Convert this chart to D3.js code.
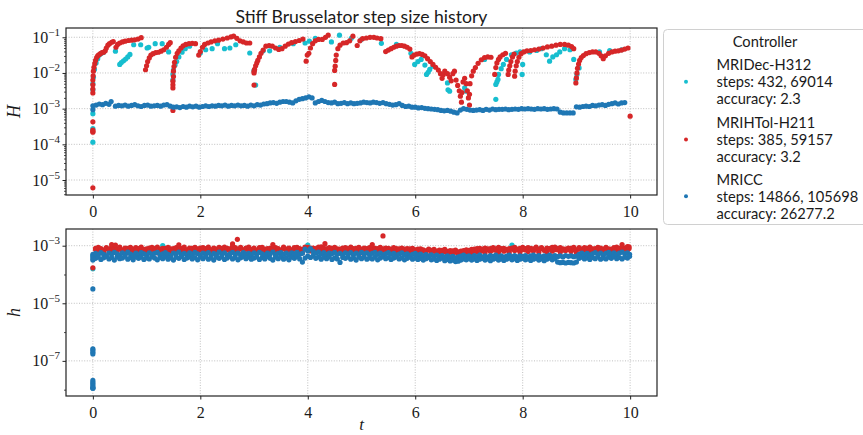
<!DOCTYPE html>
<html>
<head>
<meta charset="utf-8">
<script src="https://cdn.jsdelivr.net/npm/d3@7"></script>
<style>
    body { margin: 0; background: #fff; }
    svg { display: block; }
    .tick-lbl { font-family: "Liberation Serif", "DejaVu Serif", serif; fill: #1a1a1a; }
    .sans { font-family: Lato, "Noto Sans", sans-serif; fill: #1a1a1a; }
</style>
</head>
<body>
<div id="chart"></div>
<script>

// ---------- data (t, log10 of step size) ----------

const controllers = ["MRIDec-H312", "MRIHTol-H211", "MRICC"];
const controllerStats = [
    ["steps:  432, 69014", "accuracy:  2.3"],
    ["steps:  385, 59157", "accuracy:  3.2"],
    ["steps:  14866, 105698", "accuracy:  26277.2"]
];
const controllerColors = ["#17becf", "#d62728", "#1f77b4"];

const xTicks = [0, 2, 4, 6, 8, 10];

// upper panel, slow step H
const topCyan = [
    [0,-3.94],[0,-3.56],[0,-3.14],[0,-2.47],[0,-2.3],[0.01,-2.12],[0.03,-1.9],[0.06,-1.72],[0.09,-1.6],[0.12,-1.5],
    [0.16,-1.45],[0.2,-1.42],[0.42,-1.39],[0.5,-1.76],[0.53,-1.71],[0.57,-1.66],[0.61,-1.61],[0.65,-1.55],[0.69,-1.48],[0.76,-1.21],
    [0.89,-1.21],[1.01,-1.3],[1.04,-1.28],[1.16,-1.18],[1.29,-1.18],[1.41,-1.41],[1.49,-2.19],[1.49,-2.04],[1.5,-1.92],[1.53,-1.78],
    [1.56,-1.68],[1.6,-1.55],[1.66,-1.42],[1.72,-1.32],[1.8,-1.25],[2.0,-1.44],[2.1,-1.35],[2.22,-1.32],[2.32,-1.18],[2.45,-1.32],
    [2.55,-1.3],[2.66,-1.21],[2.92,-1.44],[3.0,-1.93],[3.03,-2.34],[3.17,-1.38],[3.29,-1.38],[3.48,-1.28],[3.73,-1.18],[3.95,-1.16],
    [4.03,-1.11],[4.14,-1.03],[4.44,-1.13],[4.59,-0.94],[4.81,-1.03],[4.99,-1.07],[5.37,-1.17],[5.65,-1.2],[5.92,-1.45],[5.99,-1.76],
    [6.05,-1.68],[6.11,-1.62],[6.18,-1.78],[6.21,-2.04],[6.24,-1.98],[6.27,-1.9],[6.33,-1.81],[6.6,-2.28],[6.61,-2.47],[6.64,-2.51],
    [6.92,-2.42],[6.95,-2.51],[7.29,-1.62],[7.5,-2.74],[7.5,-2.32],[7.52,-2.25],[7.54,-2.18],[7.55,-2.04],[7.6,-1.88],[7.64,-1.76],
    [7.7,-1.62],[7.79,-1.49],[7.88,-1.44],[7.95,-1.41],[7.99,-2.04],[8.0,-1.76],[8.13,-1.41],[8.26,-1.37],[8.35,-1.32],[8.44,-1.49],
    [8.5,-1.67],[8.56,-1.55],[8.63,-1.49],[8.69,-1.41],[8.78,-1.32],[8.88,-1.35],[8.95,-1.62],[8.99,-2.18],[9.01,-2.04],[9.05,-1.86],
    [9.43,-1.41],[9.62,-1.37],[9.84,-1.35]
];

const topRed = [
    [0,-5.22],[0,-3.66],[0,-3.63],[0,-3.6],[0,-3.37],[0,-2.56],[0,-2.45],[0,-2.33],[0,-2.2],[0.005,-2.08],
    [0.01,-1.95],[0.02,-1.84],[0.035,-1.74],[0.05,-1.65],[0.07,-1.57],[0.09,-1.52],[0.11,-1.49],[0.14,-1.46],[0.17,-1.43],[0.2,-1.42],
    [0.23,-1.38],[0.25,-1.3],[0.28,-1.22],[0.31,-1.18],[0.35,-1.14],[0.38,-1.12],
    [0.43,-1.28],[0.46,-1.2],[0.5,-1.16],[0.55,-1.13],[0.6,-1.11],[0.66,-1.09],[0.72,-1.08],[0.78,-1.07],[0.84,-1.05],[0.9,-1.01],
    [0.98,-1.91],[1.0,-1.8],[1.02,-1.68],[1.05,-1.58],[1.08,-1.5],[1.12,-1.46],[1.17,-1.43],[1.22,-1.42],[1.27,-1.39],[1.32,-1.35],
    [1.37,-1.28],[1.41,-1.2],[1.44,-1.15],
    [1.49,-3.05],[1.49,-2.42],[1.49,-2.33],[1.49,-2.23],[1.5,-2.1],[1.5,-1.95],[1.51,-1.82],[1.52,-1.7],[1.54,-1.56],[1.57,-1.45],
    [1.6,-1.38],[1.64,-1.3],[1.68,-1.24],[1.73,-1.2],[1.79,-1.18],[1.85,-1.17],[1.91,-1.18],
    [1.97,-1.5],[2.0,-1.4],[2.04,-1.28],[2.08,-1.2],[2.14,-1.16],[2.2,-1.13],[2.27,-1.1],[2.34,-1.08],[2.42,-1.05],[2.5,-1.02],
    [2.57,-0.99],[2.62,-0.97],[2.68,-1.03],[2.74,-1.1],[2.8,-1.13],[2.86,-1.16],[2.92,-1.16],
    [3.0,-2.34],[3.0,-2.0],[3.0,-1.95],[3.01,-1.9],[3.03,-1.8],[3.05,-1.72],[3.07,-1.65],[3.1,-1.55],[3.13,-1.45],[3.17,-1.36],
    [3.22,-1.25],[3.28,-1.23],[3.34,-1.25],[3.4,-1.3],[3.46,-1.34],[3.52,-1.32],[3.58,-1.25],[3.64,-1.19],[3.7,-1.15],[3.77,-1.12],
    [3.84,-1.09],[3.91,-1.05],
    [3.97,-1.67],[3.99,-1.5],[4.02,-1.45],[4.05,-1.3],[4.09,-1.18],[4.14,-1.1],[4.2,-1.06],[4.27,-1.06],[4.33,-1.0],[4.38,-0.94],
    [4.5,-2.32],[4.5,-1.93],[4.51,-1.81],[4.52,-1.65],[4.53,-1.5],[4.56,-1.32],[4.6,-1.22],[4.66,-1.16],[4.72,-1.15],[4.78,-1.1],
    [4.84,-0.97],
    [4.92,-1.23],[4.97,-1.1],[5.02,-1.04],[5.09,-1.02],[5.16,-1.0],[5.23,-1.0],[5.29,-1.02],[5.36,-1.04],
    [5.45,-1.4],[5.5,-1.36],[5.55,-1.32],[5.6,-1.28],[5.65,-1.25],[5.7,-1.23],[5.75,-1.23],[5.8,-1.25],[5.85,-1.28],[5.9,-1.33],
    [5.94,-1.55],[5.98,-1.5],[6.03,-1.47],[6.08,-1.46],[6.13,-1.48],[6.18,-1.52],[6.23,-1.6],[6.28,-1.68],[6.33,-1.76],[6.38,-1.84],
    [6.43,-1.92],[6.47,-2.02],[6.5,-2.15],[6.52,-2.05],[6.55,-1.95],[6.6,-2.02],[6.64,-2.12],[6.67,-2.22],[6.7,-2.02],[6.73,-1.95],
    [6.76,-2.2],[6.79,-2.35],[6.82,-2.5],[6.84,-2.65],[6.86,-2.82],[6.87,-2.55],[6.89,-2.25],[6.92,-2.15],[6.95,-2.3],[6.97,-2.5],
    [6.99,-2.7],[7.01,-2.9],[7.01,-2.6],[7.02,-2.3],[7.05,-2.08],[7.08,-1.95],[7.12,-1.85],[7.17,-1.73],[7.23,-1.63],[7.29,-1.57],
    [7.35,-1.55],[7.41,-1.56],
    [7.48,-2.04],[7.5,-1.85],[7.52,-1.72],[7.55,-1.62],[7.58,-1.55],[7.63,-1.49],[7.68,-1.45],
    [7.73,-2.04],[7.74,-1.92],[7.76,-1.8],[7.78,-1.68],[7.81,-1.55],[7.84,-1.47],
    [7.85,-2.09],[7.86,-1.95],[7.88,-1.8],[7.9,-1.68],[7.93,-1.56],[7.97,-1.46],[8.02,-1.41],[8.08,-1.38],[8.15,-1.37],[8.22,-1.35],
    [8.3,-1.33],[8.38,-1.3],[8.46,-1.27],[8.54,-1.25],[8.62,-1.22],[8.7,-1.2],[8.78,-1.2],[8.85,-1.22],[8.91,-1.26],[8.95,-1.32],
    [8.99,-2.28],[9.0,-2.14],[9.01,-2.0],[9.02,-1.87],[9.04,-1.75],[9.06,-1.65],[9.09,-1.57],[9.13,-1.51],[9.18,-1.46],[9.24,-1.43],
    [9.3,-1.41],[9.36,-1.41],[9.42,-1.45],[9.46,-1.52],[9.5,-1.6],[9.54,-1.52],[9.6,-1.45],[9.66,-1.41],[9.72,-1.39],[9.78,-1.38],
    [9.84,-1.36],[9.9,-1.33],[9.96,-1.3],[10.0,-3.21]
];

const topBlue = [
    [0,-2.92],[0,-3.03],[0.06,-2.9],[0.12,-2.87],[0.18,-2.89],[0.24,-2.85],[0.3,-2.88],[0.34,-2.8],[0.42,-2.93],[0.48,-2.91],[0.54,-2.92],
    [0.6,-2.9],[0.66,-2.93],[0.72,-2.91],[0.78,-2.89],[0.84,-2.92],[0.9,-2.94],[0.96,-2.91],[1.02,-2.9],[1.08,-2.93],[1.14,-2.92],
    [1.2,-2.91],[1.26,-2.93],[1.32,-2.9],[1.38,-2.89],[1.44,-2.93],[1.5,-2.96],[1.56,-2.95],[1.62,-2.97],[1.68,-2.94],[1.74,-2.96],
    [1.8,-2.93],[1.86,-2.95],[1.92,-2.93],[1.98,-2.96],[2.04,-2.94],[2.1,-2.92],[2.16,-2.94],[2.22,-2.92],[2.28,-2.93],[2.34,-2.91],
    [2.4,-2.92],[2.46,-2.9],[2.52,-2.93],[2.58,-2.91],[2.64,-2.92],[2.7,-2.9],[2.76,-2.92],[2.82,-2.91],[2.88,-2.93],[2.94,-2.9],
    [3.0,-2.92],[3.06,-2.89],[3.12,-2.9],[3.18,-2.87],[3.24,-2.86],[3.3,-2.84],[3.36,-2.83],[3.42,-2.85],[3.48,-2.82],[3.54,-2.8],
    [3.6,-2.8],[3.66,-2.82],[3.72,-2.84],[3.78,-2.78],[3.84,-2.74],[3.9,-2.72],[3.96,-2.7],[4.02,-2.67],[4.08,-2.7],[4.14,-2.84],
    [4.2,-2.8],[4.26,-2.77],[4.32,-2.8],[4.38,-2.83],[4.44,-2.84],[4.5,-2.82],[4.56,-2.86],[4.62,-2.85],[4.68,-2.83],[4.74,-2.86],
    [4.8,-2.84],[4.86,-2.86],[4.92,-2.85],[4.98,-2.84],[5.04,-2.82],[5.1,-2.83],[5.16,-2.84],[5.22,-2.82],[5.28,-2.83],[5.34,-2.85],
    [5.4,-2.83],[5.46,-2.86],[5.52,-2.88],[5.58,-2.9],[5.64,-2.89],[5.7,-2.86],[5.76,-2.91],[5.82,-2.94],[5.88,-2.93],[5.94,-2.96],
    [6.0,-2.96],[6.06,-2.98],[6.12,-2.97],[6.18,-2.99],[6.24,-3.0],[6.3,-3.01],[6.36,-3.02],[6.42,-3.03],[6.48,-3.05],[6.54,-3.06],
    [6.6,-3.05],[6.66,-3.07],[6.72,-3.1],[6.78,-3.12],[6.84,-3.04],[6.9,-3.0],[6.96,-3.02],[7.02,-3.04],[7.08,-3.05],[7.14,-3.04],
    [7.2,-3.03],[7.26,-3.05],[7.32,-3.02],[7.38,-3.04],[7.44,-3.01],[7.5,-3.03],[7.56,-3.02],[7.62,-3.02],[7.68,-3.01],[7.74,-3.03],
    [7.8,-3.02],[7.86,-3.01],[7.92,-3.02],[7.98,-3.0],[8.04,-3.01],[8.1,-3.0],[8.16,-3.01],[8.22,-3.02],[8.28,-3.0],[8.34,-3.01],
    [8.4,-3.0],[8.46,-3.02],[8.52,-3.01],[8.58,-3.0],[8.64,-3.01],[8.7,-3.1],[8.76,-3.12],[8.82,-3.12],[8.88,-3.12],[8.94,-3.12],
    [9.0,-2.95],[9.06,-2.96],[9.12,-2.94],[9.18,-2.93],[9.24,-2.94],[9.3,-2.91],[9.36,-2.92],[9.42,-2.9],[9.48,-2.89],[9.54,-2.91],
    [9.6,-2.88],[9.66,-2.86],[9.72,-2.84],[9.78,-2.87],[9.84,-2.84],[9.9,-2.83]
];

// lower panel, fast step h
const botCyan = [
    [0,-3.8],[0,-3.35],[0.2,-3.2],[0.6,-3.18],[1.0,-3.22],[1.3,-3.0],[1.6,-3.2],[2.1,-3.17],[2.6,-3.21],[3.1,-3.19],
    [3.6,-3.2],[4.0,-2.98],[4.05,-3.12],[4.1,-3.2],[4.6,-3.18],[5.1,-3.21],[5.6,-3.19],[6.1,-3.22],[6.5,-3.24],[6.85,-3.22],
    [7.2,-3.2],[7.55,-3.18],[7.8,-2.98],[8.3,-3.12],[8.75,-3.15],[9.2,-3.12],[9.6,-3.18]
];

// rows: [t, value, value]
const botRed = [
    [0.05,-3.09,-3.13],[0.1,-3.21,-3.06],[0.15,-3.14,-3.1],[0.2,-3.26,-3.15],[0.25,-3.1,-3.07],[0.3,-3.22,-3.12],[0.35,-3.05,-3.16],[0.4,-3.18,-3.08],
    [0.45,-3.25,-3.11],[0.5,-3.12,-3.05],[0.55,-3.2,-3.14],[0.6,-3.08,-3.17],[0.65,-3.24,-3.09],[0.7,-3.15,-3.06],[0.75,-3.19,-3.12],[0.8,-3.07,-3.15],
    [0.85,-3.23,-3.1],[0.9,-3.13,-3.05],[0.95,-3.27,-3.13],[1.0,-3.11,-3.16],[1.05,-3.2,-3.08],[1.1,-3.06,-3.12],[1.15,-3.17,-3.1],[1.2,-3.25,-3.05],
    [1.25,-3.12,-3.15],[1.3,-3.21,-3.09],[1.35,-3.09,-3.13],[1.4,-3.16,-3.06],[1.45,-3.26,-3.11],[1.5,-3.1,-3.16],[1.55,-3.19,-3.07],[1.6,-3.04,-3.12],
    [1.65,-3.22,-3.1],[1.7,-3.14,-3.05],[1.75,-3.24,-3.14],[1.8,-3.08,-3.17],[1.85,-3.18,-3.09],[1.9,-3.12,-3.06],[1.95,-3.26,-3.11],[2.0,-3.15,-3.08],
    [2.05,-3.07,-3.13],[2.1,-3.21,-3.1],[2.15,-3.13,-3.05],[2.2,-3.25,-3.15],[2.25,-3.1,-3.08],[2.3,-3.19,-3.12],[2.35,-3.06,-3.16],[2.4,-3.23,-3.09],
    [2.45,-3.15,-3.05],[2.5,-3.09,-3.13],[2.55,-3.2,-3.11],[2.6,-3.03,-3.15],[2.65,-3.17,-3.07],[2.7,-3.24,-3.12],[2.75,-3.11,-3.06],[2.8,-3.22,-3.14],
    [2.85,-3.08,-3.1],[2.9,-3.18,-3.05],[2.95,-3.26,-3.13],[3.0,-3.13,-3.08],[3.05,-3.2,-3.15],[3.1,-3.07,-3.11],[3.15,-3.16,-3.06],[3.2,-3.24,-3.12],
    [3.25,-3.1,-3.16],[3.3,-3.19,-3.09],[3.35,-3.05,-3.13],[3.4,-3.22,-3.07],[3.45,-3.14,-3.1],[3.5,-3.26,-3.15],[3.55,-3.09,-3.05],[3.6,-3.18,-3.12],
    [3.65,-3.12,-3.08],[3.7,-3.23,-3.14],[3.75,-3.07,-3.11],[3.8,-3.2,-3.06],[3.85,-3.15,-3.1],[3.9,-3.25,-3.13],[3.95,-3.1,-3.05],[4.0,-3.06,-3.12],
    [4.05,-3.18,-3.08],[4.1,-3.08,-3.14],[4.15,-3.22,-3.1],[4.2,-3.13,-3.05],[4.25,-3.04,-3.15],[4.3,-3.19,-3.09],[4.35,-3.11,-3.13],[4.4,-3.24,-3.07],
    [4.45,-3.09,-3.12],[4.5,-3.17,-3.06],[4.55,-3.26,-3.11],[4.6,-3.12,-3.15],[4.65,-3.2,-3.08],[4.7,-3.07,-3.13],[4.75,-3.16,-3.1],[4.8,-3.23,-3.05],
    [4.85,-3.1,-3.14],[4.9,-3.19,-3.09],[4.95,-3.14,-3.06],[5.0,-3.25,-3.12],[5.05,-3.08,-3.15],[5.1,-3.21,-3.1],[5.15,-3.13,-3.07],[5.2,-3.05,-3.13],
    [5.25,-3.18,-3.09],[5.3,-3.1,-3.14],[5.35,-3.24,-3.06],[5.4,-3.15,-3.11],[5.45,-3.2,-3.08],[5.5,-3.09,-3.15],[5.55,-3.26,-3.12],[5.6,-3.14,-3.07],
    [5.65,-3.19,-3.1],[5.7,-3.11,-3.14],[5.75,-3.23,-3.08],[5.8,-3.16,-3.12],[5.85,-3.1,-3.15],[5.9,-3.21,-3.11],[5.95,-3.13,-3.09],[6.0,-3.25,-3.14],
    [6.05,-3.12,-3.17],[6.1,-3.22,-3.11],[6.15,-3.17,-3.14],[6.2,-3.27,-3.18],[6.25,-3.14,-3.12],[6.3,-3.23,-3.16],[6.35,-3.18,-3.13],[6.4,-3.28,-3.19],
    [6.45,-3.15,-3.21],[6.5,-3.24,-3.16],[6.55,-3.2,-3.13],[6.6,-3.29,-3.2],[6.65,-3.17,-3.22],[6.7,-3.26,-3.18],[6.75,-3.22,-3.15],[6.8,-3.3,-3.21],
    [6.85,-3.19,-3.24],[6.9,-3.27,-3.17],[6.95,-3.23,-3.14],[7.0,-3.16,-3.2],[7.05,-3.25,-3.13],[7.1,-3.12,-3.17],[7.15,-3.21,-3.1],[7.2,-3.09,-3.15],
    [7.25,-3.18,-3.12],[7.3,-3.24,-3.08],[7.35,-3.11,-3.14],[7.4,-3.2,-3.1],[7.45,-3.07,-3.15],[7.5,-3.16,-3.11],[7.55,-3.23,-3.06],[7.6,-3.1,-3.13],
    [7.65,-3.19,-3.09],[7.7,-3.13,-3.15],[7.75,-3.24,-3.1],[7.8,-3.08,-3.12],[7.85,-3.17,-3.06],[7.9,-3.12,-3.14],[7.95,-3.22,-3.09],[8.0,-3.06,-3.13],
    [8.05,-3.15,-3.1],[8.1,-3.2,-3.07],[8.15,-3.09,-3.14],[8.2,-3.18,-3.11],[8.25,-3.12,-3.05],[8.3,-3.23,-3.13],[8.35,-3.07,-3.1],[8.4,-3.16,-3.15],
    [8.45,-3.21,-3.08],[8.5,-3.1,-3.12],[8.55,-3.19,-3.06],[8.6,-3.05,-3.14],[8.65,-3.14,-3.1],[8.7,-3.22,-3.07],[8.75,-3.11,-3.15],[8.8,-3.17,-3.12],
    [8.85,-3.08,-3.13],[8.9,-3.2,-3.09],[8.95,-3.13,-3.06],[9.0,-3.24,-3.14],[9.05,-3.1,-3.07],[9.1,-3.18,-3.12],[9.15,-3.07,-3.15],[9.2,-3.15,-3.09],
    [9.25,-3.22,-3.05],[9.3,-3.11,-3.13],[9.35,-3.19,-3.1],[9.4,-3.06,-3.14],[9.45,-3.16,-3.08],[9.5,-3.21,-3.12],[9.55,-3.09,-3.06],[9.6,-3.17,-3.11],
    [9.65,-3.12,-3.15],[9.7,-3.2,-3.07],[9.75,-3.05,-3.13],[9.8,-3.14,-3.09],[9.85,-3.19,-3.05],[9.9,-3.08,-3.12],[9.95,-3.15,-3.03],[9.98,-3.04,-3.1]
];
const botRedOutliers = [
    [0,-3.77],[0.35,-2.96],[0.42,-2.98],[1.6,-2.97],[2.6,-2.94],[2.69,-2.78],[3.35,-2.96],[4.32,-2.93],[5.2,-2.96],[5.4,-2.66],[9.85,-2.96]
];

// rows: [t, upper value, lower value]
const botBlue = [
    [0,-3.3,-3.45],[0,-3.38,-3.5],[0,-4.5,-6.58],[0,-6.63,-6.7],[0,-6.76,-7.68],[0,-7.75,-7.8],[0,-7.86,-7.92],[0,-7.95,-7.95],
    [0.05,-3.27,-3.44],[0.1,-3.31,-3.4],[0.15,-3.24,-3.48],[0.2,-3.3,-3.42],[0.25,-3.35,-3.38],[0.3,-3.26,-3.46],[0.35,-3.29,-3.41],[0.4,-3.23,-3.5],
    [0.45,-3.28,-3.39],[0.5,-3.33,-3.45],[0.55,-3.25,-3.43],[0.6,-3.3,-3.37],[0.65,-3.22,-3.47],[0.7,-3.29,-3.41],[0.75,-3.34,-3.49],[0.8,-3.26,-3.39],
    [0.85,-3.31,-3.44],[0.9,-3.24,-3.4],[0.95,-3.28,-3.48],[1.0,-3.33,-3.42],[1.05,-3.25,-3.46],[1.1,-3.3,-3.38],[1.15,-3.27,-3.43],[1.2,-3.23,-3.49],
    [1.25,-3.32,-3.41],[1.3,-3.28,-3.45],[1.35,-3.24,-3.39],[1.4,-3.3,-3.47],[1.45,-3.35,-3.42],[1.5,-3.26,-3.5],[1.55,-3.29,-3.4],[1.6,-3.22,-3.44],
    [1.65,-3.31,-3.37],[1.7,-3.27,-3.48],[1.75,-3.33,-3.43],[1.8,-3.25,-3.39],[1.85,-3.3,-3.46],[1.9,-3.23,-3.41],[1.95,-3.28,-3.49],[2.0,-3.32,-3.4],
    [2.05,-3.26,-3.45],[2.1,-3.29,-3.38],[2.15,-3.24,-3.47],[2.2,-3.34,-3.42],[2.25,-3.27,-3.5],[2.3,-3.31,-3.4],[2.35,-3.22,-3.44],[2.4,-3.29,-3.39],
    [2.45,-3.25,-3.48],[2.5,-3.33,-3.43],[2.55,-3.28,-3.37],[2.6,-3.23,-3.46],[2.65,-3.3,-3.41],[2.7,-3.26,-3.49],[2.75,-3.32,-3.42],[2.8,-3.24,-3.38],
    [2.85,-3.29,-3.45],[2.9,-3.27,-3.4],[2.95,-3.31,-3.47],[3.0,-3.25,-3.43],[3.05,-3.3,-3.39],[3.1,-3.23,-3.48],[3.15,-3.28,-3.41],[3.2,-3.33,-3.46],
    [3.25,-3.26,-3.38],[3.3,-3.29,-3.44],[3.35,-3.22,-3.5],[3.4,-3.31,-3.4],[3.45,-3.27,-3.45],[3.5,-3.24,-3.39],[3.55,-3.3,-3.47],[3.6,-3.26,-3.42],
    [3.65,-3.32,-3.49],[3.7,-3.25,-3.4],[3.75,-3.28,-3.44],[3.8,-3.23,-3.38],[3.85,-3.3,-3.46],[3.9,-3.27,-3.57],[3.95,-3.12,-3.43],[4.0,-3.18,-3.36],
    [4.05,-3.1,-3.41],[4.1,-3.2,-3.35],[4.15,-3.26,-3.44],[4.2,-3.22,-3.39],[4.25,-3.29,-3.47],[4.3,-3.24,-3.4],[4.35,-3.31,-3.45],[4.4,-3.26,-3.38],
    [4.45,-3.28,-3.48],[4.5,-3.23,-3.42],[4.55,-3.3,-3.46],[4.6,-3.27,-3.58],[4.65,-3.32,-3.41],[4.7,-3.25,-3.44],[4.75,-3.29,-3.39],[4.8,-3.24,-3.47],
    [4.85,-3.31,-3.42],[4.9,-3.26,-3.5],[4.95,-3.3,-3.4],[5.0,-3.23,-3.45],[5.05,-3.28,-3.39],[5.1,-3.25,-3.47],[5.15,-3.31,-3.42],[5.2,-3.27,-3.46],
    [5.25,-3.23,-3.4],[5.3,-3.3,-3.49],[5.35,-3.26,-3.43],[5.4,-3.32,-3.38],[5.45,-3.28,-3.45],[5.5,-3.24,-3.41],[5.55,-3.3,-3.48],[5.6,-3.27,-3.43],
    [5.65,-3.33,-3.39],[5.7,-3.29,-3.46],[5.75,-3.25,-3.42],[5.8,-3.31,-3.49],[5.85,-3.28,-3.44],[5.9,-3.34,-3.4],[5.95,-3.3,-3.47],[6.0,-3.27,-3.43],
    [6.05,-3.33,-3.48],[6.1,-3.29,-3.44],[6.15,-3.35,-3.5],[6.2,-3.31,-3.45],[6.25,-3.36,-3.41],[6.3,-3.32,-3.49],[6.35,-3.37,-3.46],[6.4,-3.33,-3.51],
    [6.45,-3.38,-3.47],[6.5,-3.34,-3.43],[6.55,-3.39,-3.52],[6.6,-3.35,-3.48],[6.65,-3.4,-3.53],[6.7,-3.37,-3.5],[6.75,-3.42,-3.55],[6.8,-3.39,-3.54],
    [6.85,-3.36,-3.5],[6.9,-3.33,-3.46],[6.95,-3.38,-3.49],[7.0,-3.35,-3.45],[7.05,-3.4,-3.5],[7.1,-3.34,-3.46],[7.15,-3.38,-3.51],[7.2,-3.33,-3.47],
    [7.25,-3.39,-3.44],[7.3,-3.35,-3.5],[7.35,-3.4,-3.46],[7.4,-3.34,-3.52],[7.45,-3.37,-3.47],[7.5,-3.33,-3.44],[7.55,-3.39,-3.5],[7.6,-3.35,-3.46],
    [7.65,-3.4,-3.51],[7.7,-3.36,-3.47],[7.75,-3.33,-3.43],[7.8,-3.38,-3.49],[7.85,-3.34,-3.45],[7.9,-3.39,-3.51],[7.95,-3.35,-3.47],[8.0,-3.37,-3.44],
    [8.05,-3.34,-3.49],[8.1,-3.39,-3.46],[8.15,-3.35,-3.51],[8.2,-3.33,-3.47],[8.25,-3.38,-3.44],[8.3,-3.34,-3.5],[8.35,-3.39,-3.46],[8.4,-3.35,-3.52],
    [8.45,-3.37,-3.47],[8.5,-3.33,-3.43],[8.55,-3.38,-3.49],[8.6,-3.34,-3.45],[8.65,-3.38,-3.57],[8.7,-3.35,-3.59],[8.75,-3.39,-3.58],[8.8,-3.34,-3.6],
    [8.85,-3.37,-3.58],[8.9,-3.35,-3.59],[8.95,-3.38,-3.6],[9.0,-3.36,-3.57],[9.05,-3.3,-3.44],[9.1,-3.26,-3.4],[9.15,-3.31,-3.46],[9.2,-3.27,-3.42],
    [9.25,-3.33,-3.48],[9.3,-3.28,-3.41],[9.35,-3.24,-3.45],[9.4,-3.3,-3.39],[9.45,-3.26,-3.47],[9.5,-3.32,-3.42],[9.55,-3.27,-3.46],[9.6,-3.23,-3.4],
    [9.65,-3.29,-3.44],[9.7,-3.25,-3.38],[9.75,-3.31,-3.45],[9.8,-3.26,-3.41],[9.85,-3.22,-3.46],[9.9,-3.28,-3.4],[9.95,-3.25,-3.43],[9.99,-3.3,-3.37]
];

// split rows of [t, a, b] into plain [t, value] points
const unrow = rows => rows.flatMap(r => [[r[0], r[1]], [r[0], r[2]]]);


/* * * * * * * * * * * * * *
*      class StepPanel      *
* * * * * * * * * * * * * */

class StepPanel {

    constructor(svg, opts) {
        this.svg = svg;
        this.opts = opts;
        this.initVis();
    }

    initVis() {
        let vis = this;
        let o = vis.opts;

        vis.left = 66; vis.right = 657;
        vis.top = o.top; vis.bottom = o.bottom;

        vis.x = d3.scaleLinear().domain([-0.5, 10.5]).range([vis.left, vis.right]);
        vis.y = d3.scaleLog().domain([10 ** o.yExp[0], 10 ** o.yExp[1]]).range([vis.bottom, vis.top]);

        vis.g = vis.svg.append("g");

        // grid
        vis.g.append("g").selectAll("line.vgrid")
            .data(xTicks)
            .join("line")
            .attr("x1", d => vis.x(d)).attr("x2", d => vis.x(d))
            .attr("y1", vis.top).attr("y2", vis.bottom)
            .attr("stroke", "#b0b0b0").attr("stroke-width", 0.8)
            .attr("stroke-dasharray", "1,1.6");

        vis.g.append("g").selectAll("line.hgrid")
            .data(o.major)
            .join("line")
            .attr("x1", vis.left).attr("x2", vis.right)
            .attr("y1", d => vis.y(10 ** d)).attr("y2", d => vis.y(10 ** d))
            .attr("stroke", "#b0b0b0").attr("stroke-width", 0.8)
            .attr("stroke-dasharray", "1,1.6");

        // points, one layer per controller
        vis.clip = "clip" + o.top;
        vis.svg.append("clipPath").attr("id", vis.clip)
            .append("rect")
            .attr("x", vis.left).attr("y", vis.top)
            .attr("width", vis.right - vis.left).attr("height", vis.bottom - vis.top);

        let pts = vis.g.append("g").attr("clip-path", `url(#${vis.clip})`);
        o.series.forEach((s, i) => {
            pts.append("g").selectAll("circle")
                .data(s)
                .join("circle")
                .attr("cx", d => vis.x(d[0]))
                .attr("cy", d => vis.y(10 ** d[1]))
                .attr("r", 2.6)
                .attr("fill", controllerColors[i]);
        });

        // axes
        let xAxis = d3.axisBottom(vis.x).tickValues(xTicks).tickSize(3.5).tickPadding(4).tickFormat(d3.format("d"));
        let xg = vis.g.append("g")
            .attr("transform", `translate(0,${vis.bottom})`)
            .call(xAxis);
        xg.select(".domain").remove();
        xg.selectAll(".tick line").attr("stroke", "#222").attr("stroke-width", 1);
        xg.selectAll(".tick text").attr("class", "tick-lbl").attr("font-size", 16).attr("dy", "0.9em");

        let minorAxis = d3.axisLeft(vis.y).tickValues(o.minor).tickSize(2).tickFormat("");
        let mg = vis.g.append("g").attr("transform", `translate(${vis.left},0)`).call(minorAxis);
        mg.select(".domain").remove();
        mg.selectAll(".tick line").attr("stroke", "#222").attr("stroke-width", 0.8);

        let yAxis = d3.axisLeft(vis.y).tickValues(o.major.map(e => 10 ** e)).tickSize(3.5).tickPadding(3.5).tickFormat("");
        let yg = vis.g.append("g").attr("transform", `translate(${vis.left},0)`).call(yAxis);
        yg.select(".domain").remove();
        yg.selectAll(".tick line").attr("stroke", "#222").attr("stroke-width", 1);
        yg.selectAll(".tick text").each(function(d) {
            let t = d3.select(this)
                .attr("class", "tick-lbl")
                .attr("font-size", 16)
                .attr("dy", null)
                .attr("x", -6)
                .attr("y", 5)
                .attr("text-anchor", "end");
            t.append("tspan").text("10");
            t.append("tspan").attr("font-size", 11).attr("dy", -7)
                .text("\u2212" + Math.abs(Math.round(Math.log10(d))));
        });

        // frame
        vis.g.append("rect")
            .attr("x", vis.left).attr("y", vis.top)
            .attr("width", vis.right - vis.left).attr("height", vis.bottom - vis.top)
            .attr("fill", "none").attr("stroke", "#222").attr("stroke-width", 1.2);

        // y label
        vis.g.append("text")
            .attr("class", "tick-lbl")
            .attr("transform", `translate(${o.labelX},${(vis.top + vis.bottom) / 2}) rotate(-90)`)
            .attr("text-anchor", "middle")
            .attr("font-size", 18)
            .attr("font-style", "italic")
            .text(o.label);
    }
}

function decadeMinors(lo, hi) {
    let out = [];
    for (let e = Math.floor(lo); e <= Math.ceil(hi); e++) {
        for (let m = 2; m <= 9; m++) {
            let v = m * 10 ** e;
            if (Math.log10(v) >= lo && Math.log10(v) <= hi) out.push(v);
        }
    }
    return out;
}

const svg = d3.select("#chart").append("svg")
    .attr("width", 863)
    .attr("height", 435);

new StepPanel(svg, {
    top: 28, bottom: 195,
    yExp: [-5.42, -0.74],
    major: [-5, -4, -3, -2, -1],
    minor: decadeMinors(-5.42, -0.74),
    series: [topCyan, topRed, topBlue],
    label: "H", labelX: 20
});

new StepPanel(svg, {
    top: 229, bottom: 396,
    yExp: [-8.22, -2.42],
    major: [-7, -5, -3],
    minor: [-8, -6, -4].map(e => 10 ** e),
    series: [botCyan, unrow(botRed).concat(botRedOutliers), unrow(botBlue)],
    label: "h", labelX: 20
});

// x label
svg.append("text")
    .attr("class", "tick-lbl")
    .attr("x", 361.5).attr("y", 429.5)
    .attr("text-anchor", "middle")
    .attr("font-size", 17)
    .attr("font-style", "italic")
    .text("t");

// title, fitted to the width it has in the reference
function fitWidth(sel, target) {
    let w = sel.node().getComputedTextLength();
    let fs = +sel.attr("font-size");
    sel.attr("font-size", fs * target / w);
}

let title = svg.append("text")
    .attr("class", "sans")
    .attr("x", 361.5).attr("y", 22.5)
    .attr("text-anchor", "middle")
    .attr("font-size", 18)
    .text("Stiff Brusselator step size history");
fitWidth(title, 252);

// legend
let lg = svg.append("g");
lg.append("rect")
    .attr("x", 663.5).attr("y", 29.5)
    .attr("width", 220).attr("height", 195)
    .attr("rx", 4)
    .attr("fill", "#fff").attr("fill-opacity", 0.8)
    .attr("stroke", "#d0d0d0").attr("stroke-width", 1);

let lgTitle = lg.append("text")
    .attr("class", "sans")
    .attr("x", 765).attr("y", 46.5)
    .attr("text-anchor", "middle")
    .attr("font-size", 16)
    .text("Controller");

let baselines = [[70, 87.3, 104.3], [127.7, 145, 161.5], [185, 201.7, 218.5]];
let probe = null;
controllers.forEach((c, i) => {
    let lines = [c].concat(controllerStats[i]);
    lines.forEach((s, j) => {
        let t = lg.append("text")
            .attr("class", "sans legend-line")
            .attr("x", 716.5).attr("y", baselines[i][j])
            .attr("font-size", 16)
            .text(s);
        if (i === 2 && j === 1) probe = t;
    });
    lg.append("circle")
        .attr("cx", 686).attr("cy", baselines[i][1] - 5.5)
        .attr("r", 2)
        .attr("fill", controllerColors[i]);
});

// scale all legend text to match the reference line width
let fs = 16 * 142 / probe.node().getComputedTextLength();
lg.selectAll(".legend-line").attr("font-size", fs);
lgTitle.attr("font-size", fs);

</script>
</body>
</html>
